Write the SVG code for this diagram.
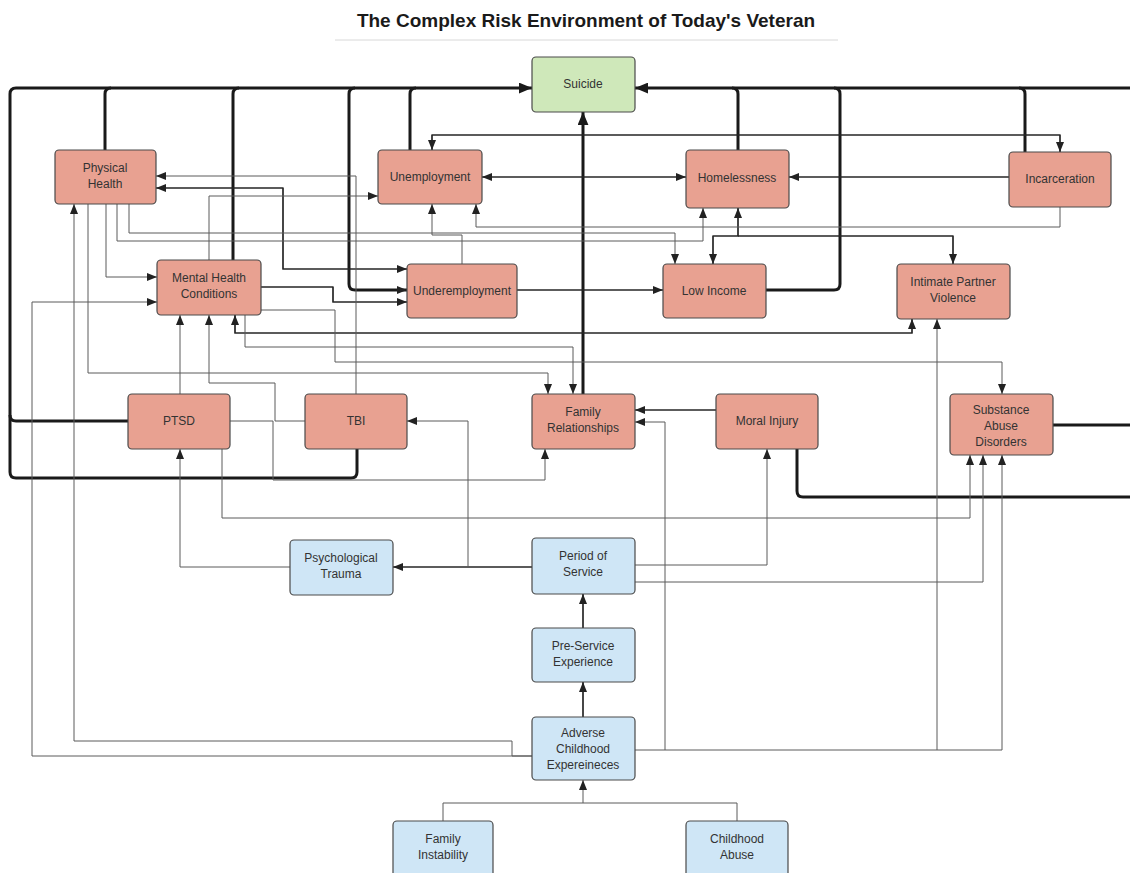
<svg xmlns="http://www.w3.org/2000/svg" width="1130" height="873" viewBox="0 0 1130 873">
<style>
.bg{fill:#ffffff}
.title{font-family:"Liberation Sans",Arial,sans-serif;font-size:19px;font-weight:bold;fill:#1a1a1a;text-anchor:middle}
.lbl{font-family:"Liberation Sans",Arial,sans-serif;font-size:12px;fill:#333333;text-anchor:middle}
.red{fill:#e8a191;stroke:#4a4a4a;stroke-width:1.2}
.blue{fill:#cfe6f6;stroke:#4a4a4a;stroke-width:1.2}
.green{fill:#cfe8ba;stroke:#4a4a4a;stroke-width:1.2}
.t{fill:none;stroke:#1a1a1a;stroke-width:3;stroke-linejoin:round}
.m{fill:none;stroke:#262626;stroke-width:1.7;stroke-linejoin:round}
.n{fill:none;stroke:#5a5a5a;stroke-width:1;stroke-linejoin:round}
</style>
<defs>
<marker id="a" viewBox="0 0 10 8" refX="10" refY="4" markerWidth="10" markerHeight="8" markerUnits="userSpaceOnUse" orient="auto-start-reverse"><path d="M0,0 L10,4 L0,8 z" fill="#222"/></marker>
<marker id="ab" viewBox="0 0 12 10" refX="12" refY="5" markerWidth="13" markerHeight="11" markerUnits="userSpaceOnUse" orient="auto-start-reverse"><path d="M0,0 L12,5 L0,10 z" fill="#1a1a1a"/></marker>
</defs>
<rect class="bg" x="0" y="0" width="1130" height="873"/>
<text class="title" x="586" y="27">The Complex Risk Environment of Today's Veteran</text>
<line x1="335" y1="40" x2="838" y2="40" stroke="#d8d8d8" stroke-width="1"/>

<g id="connectors">
<!-- thick lines to Suicide -->
<path class="t" d="M357 449 V472 Q357 478 351 478 H16 Q10 478 10 472 V94 Q10 88 16 88 H532" marker-end="url(#ab)"/>
<path class="t" d="M128 421 H16 Q10 421 10 415"/>
<path class="t" d="M105 150 V94 Q105 88 111 88"/>
<path class="t" d="M233 260 V94 Q233 88 239 88"/>
<path class="t" d="M355 88 Q349 88 349 94 V284 Q349 290 355 290 H407" marker-end="url(#a)"/>
<path class="t" d="M410 150 V94 Q410 88 416 88"/>
<path class="t" d="M1130 88 H635" marker-end="url(#ab)"/>
<path class="t" d="M738 150 V94 Q738 88 732 88"/>
<path class="t" d="M766 290 H834 Q840 290 840 284 V94 Q840 88 834 88"/>
<path class="t" d="M1025 152 V94 Q1025 88 1019 88"/>
<path class="t" d="M1053 425 H1130"/>
<path class="t" d="M797 449 V491 Q797 497 803 497 H1130"/>
<path class="t" d="M583 394 V112" marker-end="url(#ab)"/>

<!-- medium lines -->
<path class="m" d="M432 150 V135 H1060 V152" marker-start="url(#a)" marker-end="url(#a)"/>
<path class="m" d="M482 177 H686" marker-start="url(#a)" marker-end="url(#a)"/>
<path class="m" d="M1009 177 H789" marker-end="url(#a)"/>
<path class="m" d="M156 188 H283 V269 H407" marker-start="url(#a)" marker-end="url(#a)"/>
<path class="m" d="M517 290 H663" marker-end="url(#a)"/>
<path class="m" d="M235 315 V333 H912 V319" marker-start="url(#a)" marker-end="url(#a)"/>
<path class="m" d="M738 208 V236 H713 V264" marker-start="url(#a)" marker-end="url(#a)"/>
<path class="m" d="M738 236 H953 V264" marker-end="url(#a)"/>
<path class="m" d="M261 287 H333 V302 H407" marker-end="url(#a)"/>
<path class="m" d="M532 567 H393" marker-end="url(#a)"/>
<path class="m" d="M583 628 V594" marker-end="url(#a)"/>
<path class="m" d="M583 717 V682" marker-end="url(#a)"/>
<path class="m" d="M716 410 H635" marker-end="url(#a)"/>

<!-- thin lines -->
<path class="n" d="M356 394 V176 H156" marker-end="url(#a)"/>
<path class="n" d="M209 260 V196 H378" marker-end="url(#a)"/>
<path class="n" d="M106 204 V277 H157" marker-end="url(#a)"/>
<path class="n" d="M129 204 V233 H675 V264" marker-end="url(#a)"/>
<path class="n" d="M117 204 V241 H703 V208" marker-end="url(#a)"/>
<path class="n" d="M1060 207 V227 H476 V204" marker-end="url(#a)"/>
<path class="n" d="M462 264 V235 H432 V204" marker-end="url(#a)"/>
<path class="n" d="M88 204 V373 H548 V394" marker-end="url(#a)"/>
<path class="n" d="M245 315 V347 H573 V394" marker-end="url(#a)"/>
<path class="n" d="M261 310 H335 V362 H1002 V394" marker-end="url(#a)"/>
<path class="n" d="M532 756 H32 V302 H157" marker-end="url(#a)"/>
<path class="n" d="M532 756 H512 V741 H74 V204" marker-end="url(#a)"/>
<path class="n" d="M180 394 V315" marker-end="url(#a)"/>
<path class="n" d="M305 421 H275 V383 H209 V315" marker-end="url(#a)"/>
<path class="n" d="M230 421 H273 V480 H545 V449" marker-end="url(#a)"/>
<path class="n" d="M222 449 V518 H970 V455" marker-end="url(#a)"/>
<path class="n" d="M290 567 H180 V449" marker-end="url(#a)"/>
<path class="n" d="M532 567 H468 V421 H407" marker-end="url(#a)"/>
<path class="n" d="M635 565 H767 V449" marker-end="url(#a)"/>
<path class="n" d="M635 582 H983 V455" marker-end="url(#a)"/>
<path class="n" d="M635 750 H665 V422 H635" marker-end="url(#a)"/>
<path class="n" d="M665 750 H937 V319" marker-end="url(#a)"/>
<path class="n" d="M937 750 H1002 V455" marker-end="url(#a)"/>
<path class="n" d="M443 821 V803 H583 V780" marker-end="url(#a)"/>
<path class="n" d="M737 821 V803 H583"/>
</g>

<g id="suicide"><rect class="green" x="532" y="57" width="103" height="55" rx="4"/><text class="lbl" x="583" y="88">Suicide</text></g>
<g id="physical-health"><rect class="red" x="55" y="150" width="101" height="54" rx="4"/><text class="lbl" x="105" y="172">Physical</text><text class="lbl" x="105" y="188">Health</text></g>
<g id="unemployment"><rect class="red" x="378" y="150" width="104" height="54" rx="4"/><text class="lbl" x="430" y="181">Unemployment</text></g>
<g id="homelessness"><rect class="red" x="686" y="150" width="103" height="58" rx="4"/><text class="lbl" x="737" y="182">Homelessness</text></g>
<g id="incarceration"><rect class="red" x="1009" y="152" width="102" height="55" rx="4"/><text class="lbl" x="1060" y="183">Incarceration</text></g>
<g id="mental-health"><rect class="red" x="157" y="260" width="104" height="55" rx="4"/><text class="lbl" x="209" y="282">Mental Health</text><text class="lbl" x="209" y="298">Conditions</text></g>
<g id="underemployment"><rect class="red" x="407" y="264" width="110" height="54" rx="4"/><text class="lbl" x="462" y="295">Underemployment</text></g>
<g id="low-income"><rect class="red" x="663" y="264" width="103" height="54" rx="4"/><text class="lbl" x="714" y="295">Low Income</text></g>
<g id="ipv"><rect class="red" x="897" y="264" width="113" height="55" rx="4"/><text class="lbl" x="953" y="286">Intimate Partner</text><text class="lbl" x="953" y="302">Violence</text></g>
<g id="ptsd"><rect class="red" x="128" y="394" width="102" height="55" rx="4"/><text class="lbl" x="179" y="425">PTSD</text></g>
<g id="tbi"><rect class="red" x="305" y="394" width="102" height="55" rx="4"/><text class="lbl" x="356" y="425">TBI</text></g>
<g id="family-relationships"><rect class="red" x="532" y="394" width="103" height="55" rx="4"/><text class="lbl" x="583" y="416">Family</text><text class="lbl" x="583" y="432">Relationships</text></g>
<g id="moral-injury"><rect class="red" x="716" y="394" width="102" height="55" rx="4"/><text class="lbl" x="767" y="425">Moral Injury</text></g>
<g id="substance-abuse"><rect class="red" x="950" y="394" width="103" height="61" rx="4"/><text class="lbl" x="1001" y="414">Substance</text><text class="lbl" x="1001" y="430">Abuse</text><text class="lbl" x="1001" y="446">Disorders</text></g>
<g id="psychological-trauma"><rect class="blue" x="290" y="540" width="103" height="55" rx="4"/><text class="lbl" x="341" y="562">Psychological</text><text class="lbl" x="341" y="578">Trauma</text></g>
<g id="period-of-service"><rect class="blue" x="532" y="538" width="103" height="56" rx="4"/><text class="lbl" x="583" y="560">Period of</text><text class="lbl" x="583" y="576">Service</text></g>
<g id="pre-service"><rect class="blue" x="532" y="628" width="103" height="54" rx="4"/><text class="lbl" x="583" y="650">Pre-Service</text><text class="lbl" x="583" y="666">Experience</text></g>
<g id="ace"><rect class="blue" x="532" y="717" width="103" height="63" rx="4"/><text class="lbl" x="583" y="737">Adverse</text><text class="lbl" x="583" y="753">Childhood</text><text class="lbl" x="583" y="769">Expereineces</text></g>
<g id="family-instability"><rect class="blue" x="393" y="821" width="100" height="56" rx="4"/><text class="lbl" x="443" y="843">Family</text><text class="lbl" x="443" y="859">Instability</text></g>
<g id="childhood-abuse"><rect class="blue" x="686" y="821" width="102" height="56" rx="4"/><text class="lbl" x="737" y="843">Childhood</text><text class="lbl" x="737" y="859">Abuse</text></g>
</svg>
